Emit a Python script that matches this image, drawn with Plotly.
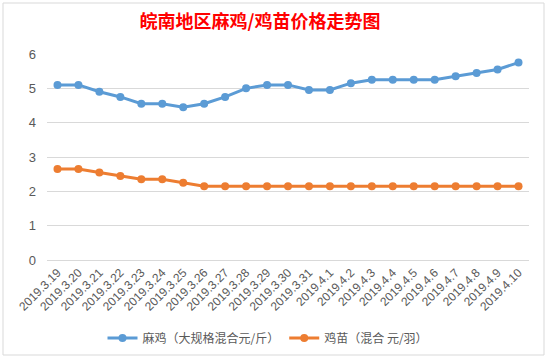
import plotly.graph_objects as go

dates = ["2019.3.19", "2019.3.20", "2019.3.21", "2019.3.22", "2019.3.23", "2019.3.24",
         "2019.3.25", "2019.3.26", "2019.3.27", "2019.3.28", "2019.3.29", "2019.3.30",
         "2019.3.31", "2019.4.1", "2019.4.2", "2019.4.3", "2019.4.4", "2019.4.5",
         "2019.4.6", "2019.4.7", "2019.4.8", "2019.4.9", "2019.4.10"]
maji = [5.1, 5.1, 4.9, 4.75, 4.55, 4.55, 4.45, 4.55, 4.75, 5.0, 5.1, 5.1,
        4.95, 4.95, 5.15, 5.25, 5.25, 5.25, 5.25, 5.35, 5.45, 5.55, 5.75]
jimiao = [2.65, 2.65, 2.55, 2.45, 2.35, 2.35, 2.25, 2.15, 2.15, 2.15, 2.15, 2.15,
          2.15, 2.15, 2.15, 2.15, 2.15, 2.15, 2.15, 2.15, 2.15, 2.15, 2.15]
name_maji = "麻鸡（大规格混合元/斤）"
name_jimiao = "鸡苗（混合 元/羽）"
title = "皖南地区麻鸡/鸡苗价格走势图"

FONT = "Noto Sans CJK SC"

fig = go.Figure()
fig.add_trace(go.Scatter(x=dates, y=maji, name=name_maji, mode="lines+markers",
                         line=dict(color="#5B9BD5", width=3),
                         marker=dict(color="#5B9BD5", size=8)))
fig.add_trace(go.Scatter(x=dates, y=jimiao, name=name_jimiao, mode="lines+markers",
                         line=dict(color="#ED7D31", width=3),
                         marker=dict(color="#ED7D31", size=8)))

L, R, T, B = 47, 18, 54, 101
W, H = 547, 361
pw, ph = W - L - R, H - T - B

def px_x(px):
    return (px - L) / pw

def px_y(py):
    return (H - B - py) / ph

fig.add_shape(type="rect", xref="paper", yref="paper",
              x0=px_x(3), x1=px_x(544), y0=px_y(355), y1=px_y(3),
              line=dict(color="#D9D9D9", width=1), fillcolor="rgba(0,0,0,0)", layer="below")

fig.update_layout(
    width=W, height=H,
    margin=dict(l=L, r=R, t=T, b=B, autoexpand=False),
    paper_bgcolor="white", plot_bgcolor="white",
    font=dict(family=FONT, color="#595959"),
    title=dict(text="<b>" + title + "</b>", xref="container", x=260 / W, xanchor="center",
               yref="container", y=1 - 22 / H, yanchor="middle",
               font=dict(family=FONT, size=18, color="#FF0000")),
    legend=dict(orientation="h", xref="container", x=268 / W, xanchor="center",
                yref="container", y=1 - 338 / H, yanchor="middle",
                font=dict(family=FONT, size=12, color="#595959"),
                bgcolor="rgba(0,0,0,0)"),
    showlegend=True,
)
fig.update_xaxes(type="category", range=[-0.5, len(dates) - 0.5], tickangle=-45,
                 automargin=False,
                 tickfont=dict(family="Liberation Sans", size=12, color="#595959"),
                 showgrid=False, showline=True, linecolor="#D9D9D9", ticks="", zeroline=False)
fig.update_yaxes(range=[0, 6], dtick=1, showgrid=True, gridcolor="#D9D9D9", gridwidth=1,
                 automargin=False,
                 zeroline=False, showline=False, ticks="",
                 tickfont=dict(family="Liberation Sans", size=13, color="#595959"),
                 ticklabelstandoff=10)

fig.write_html("out.html", config={"displayModeBar": False},
               post_script="document.body.style.margin='0';document.body.style.padding='0';window.dispatchEvent(new Event('resize'));")
